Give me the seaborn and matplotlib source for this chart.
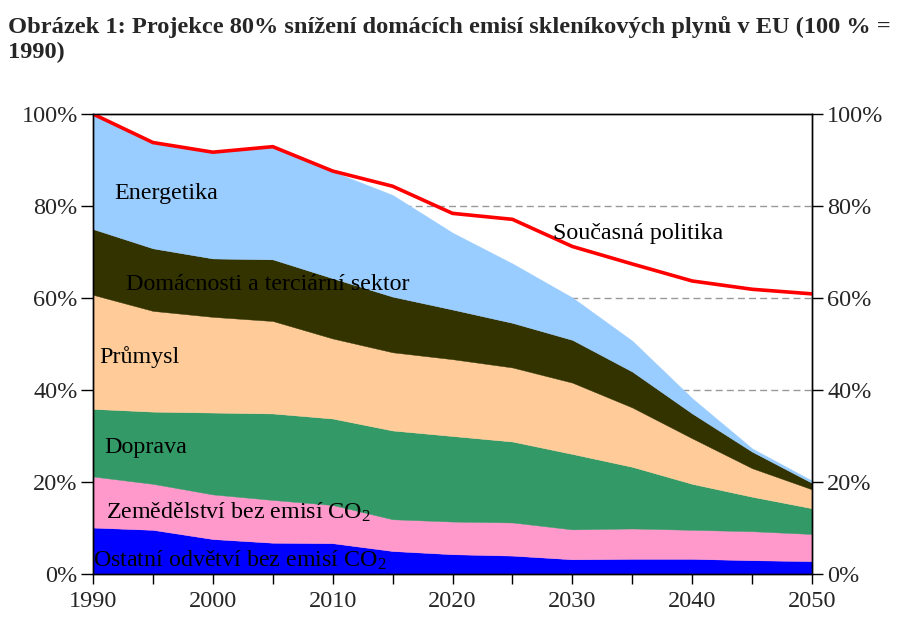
import matplotlib
matplotlib.use("Agg")
import matplotlib.pyplot as plt
import pandas as pd
import seaborn as sns

# data (percent of 1990 emissions)
years = [1990, 1995, 2000, 2005, 2010, 2015, 2020, 2025, 2030, 2035, 2040, 2045, 2050]
ostatni = [10.1, 9.6, 7.6, 6.8, 6.7, 5.0, 4.3, 4.0, 3.2, 3.3, 3.3, 3.0, 2.8]
zemedelstvi = [11.1, 10.0, 9.7, 9.3, 8.3, 6.9, 7.1, 7.2, 6.5, 6.6, 6.3, 6.3, 5.9]
doprava = [14.7, 15.7, 17.8, 18.8, 18.8, 19.3, 18.6, 17.6, 16.4, 13.4, 10.0, 7.5, 5.6]
prumysl = [24.8, 21.9, 20.8, 20.1, 17.4, 17.0, 16.7, 16.1, 15.5, 12.9, 9.9, 6.2, 4.1]
domacnosti = [14.3, 13.6, 12.7, 13.4, 13.1, 12.1, 10.8, 9.7, 9.3, 7.8, 5.4, 3.6, 1.4]
energetika = [25.0, 22.8, 23.0, 24.4, 23.2, 22.1, 16.7, 12.9, 9.2, 6.7, 3.3, 0.7, 0.5]
politika = [100, 93.8, 91.7, 92.9, 87.6, 84.3, 78.4, 77.1, 71.2, 67.4, 63.7, 61.9, 60.9]

sector_names = ["Ostatní odvětví bez emisí CO$_2$", "Zemědělství bez emisí CO$_2$", "Doprava",
                "Průmysl", "Domácnosti a terciární sektor", "Energetika"]
sector_colors = ["#0000FF", "#FF99CC", "#339966", "#FFCC99", "#333300", "#99CCFF"]
policy_name = "Současná politika"

yticks = [0, 20, 40, 60, 80, 100]
ytick_labels = ["0%", "20%", "40%", "60%", "80%", "100%"]
xticks = [1990, 2000, 2010, 2020, 2030, 2040, 2050]

title_1 = "Obrázek 1: Projekce 80% snížení domácích emisí skleníkových plynů v EU (100 % ="
title_2 = "1990)"

sns.set_theme(style="white")
plt.rcParams["font.family"] = ["Liberation Serif", "DejaVu Serif"]
plt.rcParams["mathtext.fontset"] = "custom"
plt.rcParams["mathtext.rm"] = "Liberation Serif"
plt.rcParams["mathtext.it"] = "Liberation Serif:italic"

fig = plt.figure(figsize=(9.12, 6.38), dpi=100)
ax = fig.add_axes([0.102, 0.1003, 0.7884, 0.721])

# dashed grid, only visible where the areas leave white space
for v in yticks[1:-1]:
    ax.axhline(v, color="#999999", ls=(0, (5, 3)), lw=1, zorder=0)

ax.stackplot(years, ostatni, zemedelstvi, doprava, prumysl, domacnosti, energetika,
             colors=sector_colors, edgecolor="face", linewidth=0.3, zorder=1)

df = pd.DataFrame({"rok": years, "politika": politika})
sns.lineplot(data=df, x="rok", y="politika", color="#FF0000", lw=2.6, ax=ax, zorder=3)

ax.set_xlim(1990, 2050)
ax.set_ylim(0, 100)
ax.set_xlabel("")
ax.set_ylabel("")
ax.set_xticks(xticks)
ax.set_xticks(years, minor=True)
ax.set_yticks(yticks)
ax.set_yticklabels(ytick_labels)
ax.tick_params(axis="x", which="both", bottom=True, direction="out", length=7, width=1,
               color="black", labelsize=17.5, pad=5)
ax.tick_params(axis="y", left=True, direction="out", length=9, width=1, color="black",
               labelsize=17.5, pad=2)
for sp in ax.spines.values():
    sp.set_color("black")
    sp.set_linewidth(1)

ax2 = ax.twinx()
ax2.set_ylim(0, 100)
ax2.set_yticks(yticks)
ax2.set_yticklabels(ytick_labels)
ax2.tick_params(axis="y", right=True, direction="out", length=8, width=1, color="black",
                labelsize=17.5, pad=3)
for sp in ax2.spines.values():
    sp.set_color("black")
    sp.set_linewidth(1)
ax2.grid(False)

# area labels
label_pos = [(1990.0, 3.0), (1991.1, 13.3), (1990.9, 27.6), (1990.5, 47.2), (1992.75, 63.0), (1991.8, 82.8)]
for name, (x, y) in zip(sector_names, label_pos):
    ax.text(x, y, name, fontsize=17.3, color="black", va="center", ha="left", zorder=4)
ax.text(2028.4, 74.1, policy_name, fontsize=17.3, color="black", va="center", ha="left", zorder=4)

fig.text(8 / 912, 1 - 27 / 638, title_1, fontsize=17.6, fontweight="bold", va="center", ha="left")
fig.text(8 / 912, 1 - 52 / 638, title_2, fontsize=17.6, fontweight="bold", va="center", ha="left")

fig.savefig("out.png", dpi=100)
